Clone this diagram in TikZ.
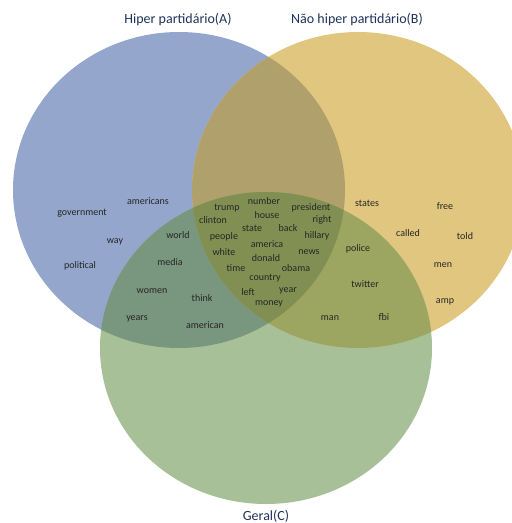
\documentclass[tikz,border=0pt]{standalone}
\usepackage{fontspec}
\setmainfont{Carlito}
\usepackage{tikz}

\definecolor{setA}{RGB}{148,166,204}
\definecolor{setB}{RGB}{224,198,126}
\definecolor{setC}{RGB}{168,192,152}
\definecolor{setAB}{RGB}{176,160,108}
\definecolor{setAC}{RGB}{121,150,127}
\definecolor{setBC}{RGB}{157,166,96}
\definecolor{setABC}{RGB}{130,143,82}
\definecolor{titlecol}{RGB}{31,50,90}

\tikzset{
  word/.style={font=\fontsize{10}{12}\selectfont, text=black!85, inner sep=1pt},
  settitle/.style={font=\fontsize{14}{16}\selectfont, text=titlecol, inner sep=1pt}
}

\newcommand{\setAshape}{(179,190) ellipse [x radius=166, y radius=158]}
\newcommand{\setBshape}{(358,190) ellipse [x radius=166, y radius=158]}
\newcommand{\setCshape}{(266,348) ellipse [x radius=166, y radius=156]}

\begin{document}
\begin{tikzpicture}[x=1pt,y=-1pt]

\clip (0,0) rectangle (512,523);

\fill[setA] \setAshape;
\fill[setB] \setBshape;
\fill[setC] \setCshape;

\begin{scope}
  \clip \setAshape;
  \fill[setAB] \setBshape;
  \fill[setAC] \setCshape;
\end{scope}
\begin{scope}
  \clip \setBshape;
  \fill[setBC] \setCshape;
\end{scope}
\begin{scope}
  \clip \setAshape;
  \clip \setBshape;
  \fill[setABC] \setCshape;
\end{scope}

\node[settitle] (titleA) at (178,20) {Hiper partidário(A)};
\node[settitle] (titleB) at (357,20) {Não hiper partidário(B)};
\node[settitle] (titleC) at (266,516) {Geral(C)};

% A only
\node[word] (w-americans) at (148,201) {americans};
\node[word] (w-government) at (82,213) {government};
\node[word] (w-way) at (115,242) {way};
\node[word] (w-political) at (80,266) {political};

% A and C
\node[word] (w-world) at (178,235) {world};
\node[word] (w-media) at (170,262) {media};
\node[word] (w-women) at (152,291) {women};
\node[word] (w-think) at (202,298) {think};
\node[word] (w-years) at (137,319) {years};
\node[word] (w-american) at (205,325) {american};

% A, B and C
\node[word] (w-number) at (264,201) {number};
\node[word] (w-trump) at (227,208) {trump};
\node[word] (w-president) at (311,208) {president};
\node[word] (w-house) at (267,215) {house};
\node[word] (w-clinton) at (213,220) {clinton};
\node[word] (w-right) at (322,220) {right};
\node[word] (w-state) at (252,228) {state};
\node[word] (w-back) at (288,228) {back};
\node[word] (w-people) at (224,237) {people};
\node[word] (w-hillary) at (317,236) {hillary};
\node[word] (w-america) at (267,244) {america};
\node[word] (w-white) at (224,252) {white};
\node[word] (w-news) at (309,252) {news};
\node[word] (w-donald) at (266,258) {donald};
\node[word] (w-time) at (236,268) {time};
\node[word] (w-obama) at (296,268) {obama};
\node[word] (w-country) at (265,278) {country};
\node[word] (w-left) at (248,292) {left};
\node[word] (w-year) at (288,291) {year};
\node[word] (w-money) at (269,304) {money};

% B and C
\node[word] (w-police) at (358,249) {police};
\node[word] (w-twitter) at (365,284) {twitter};
\node[word] (w-man) at (330,318) {man};
\node[word] (w-fbi) at (384,317) {fbi};

% B only
\node[word] (w-states) at (367,203) {states};
\node[word] (w-free) at (445,206) {free};
\node[word] (w-called) at (408,233) {called};
\node[word] (w-told) at (465,236) {told};
\node[word] (w-men) at (443,265) {men};
\node[word] (w-amp) at (445,302) {amp};

\end{tikzpicture}
\end{document}
